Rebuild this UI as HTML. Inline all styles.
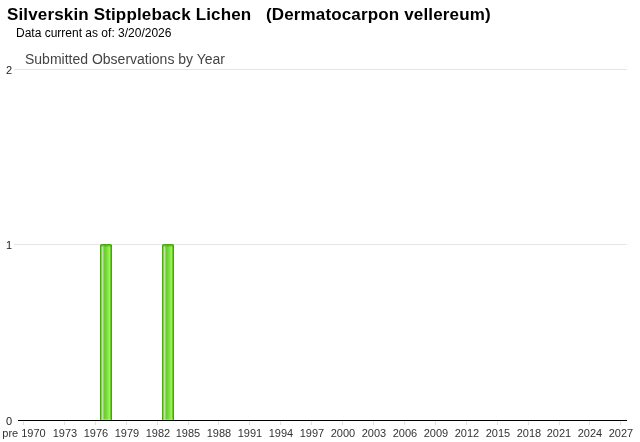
<!DOCTYPE html>
<html><head><meta charset="utf-8"><style>
html,body{margin:0;padding:0;background:#fff;width:640px;height:442px;overflow:hidden}
body{position:relative;font-family:"Liberation Sans",sans-serif}
.t,.yl,.xl{will-change:transform}
.t{position:absolute;white-space:pre;line-height:1}
#title{left:7px;top:6px;font-weight:bold;font-size:17px;color:#000;letter-spacing:0.15px}
#sub{left:16px;top:27px;font-size:12px;color:#000}
#ctitle{left:25px;top:52px;font-size:14px;color:#444}
.yl{position:absolute;font-size:11px;color:#222;text-align:right;width:12px;left:0;line-height:1}
.xl{position:absolute;font-size:11px;color:#333;text-align:center;width:60px;top:428px;line-height:1;white-space:pre}
.g{position:absolute;height:1px;background:#e6e6e6}
.tk{position:absolute;width:1px;height:4px;top:421px;background:linear-gradient(to bottom,#f2f2f2 0 1px,#dedede 1px 4px)}
.bar{position:absolute;top:244px;width:12px;height:176px;background:linear-gradient(to right,#48ab08 0px 1px,#86cd62 1px 2px,#bde3a6 2px 3px,#93d667 3px 4px,#6ecf2e 4px 5px,#70d233 5px 6px,#79da3c 6px 7px,#84e345 7px 8px,#8fec4e 8px 9px,#98f558 9px 10px,#6cc92c 10px 11px,#45a800 11px 12px)}
.bt{position:absolute;left:0;top:0;width:12px;height:1px;background:#4aa90a}
.bt2{position:absolute;left:0;top:1px;width:12px;height:2px;background:linear-gradient(to bottom,rgba(60,160,0,0.6),rgba(60,160,0,0.2))}
.bb{position:absolute;left:1px;bottom:0;width:10px;height:1px;background:rgba(160,255,110,0.6)}
.cn{position:absolute;top:0;width:1px;height:1px;background:#a6d68a}
</style></head><body>
<div class="t" id="title">Silverskin Stippleback Lichen   (Dermatocarpon vellereum)</div>
<div class="t" id="sub">Data current as of: 3/20/2026</div>
<div class="t" id="ctitle">Submitted Observations by Year</div>

<div class="g" style="left:14px;top:69px;width:613px"></div>
<div class="g" style="left:14px;top:244px;width:613px"></div>
<div class="yl" style="top:65px">2</div>
<div class="yl" style="top:240px">1</div>
<div class="yl" style="top:416px">0</div>
<div style="position:absolute;left:18px;top:420px;width:609px;height:1px;background:#000"></div>
<div class="tk" style="left:23px"></div>
<div class="xl" style="left:-6.45px">pre 1970</div>
<div class="tk" style="left:64px"></div>
<div class="xl" style="left:34.77px">1973</div>
<div class="tk" style="left:95px"></div>
<div class="xl" style="left:65.69px">1976</div>
<div class="tk" style="left:126px"></div>
<div class="xl" style="left:96.61px">1979</div>
<div class="tk" style="left:157px"></div>
<div class="xl" style="left:127.53px">1982</div>
<div class="tk" style="left:188px"></div>
<div class="xl" style="left:158.45px">1985</div>
<div class="tk" style="left:218px"></div>
<div class="xl" style="left:189.36px">1988</div>
<div class="tk" style="left:249px"></div>
<div class="xl" style="left:220.28px">1991</div>
<div class="tk" style="left:280px"></div>
<div class="xl" style="left:251.20px">1994</div>
<div class="tk" style="left:311px"></div>
<div class="xl" style="left:282.12px">1997</div>
<div class="tk" style="left:342px"></div>
<div class="xl" style="left:313.04px">2000</div>
<div class="tk" style="left:373px"></div>
<div class="xl" style="left:343.95px">2003</div>
<div class="tk" style="left:404px"></div>
<div class="xl" style="left:374.87px">2006</div>
<div class="tk" style="left:435px"></div>
<div class="xl" style="left:405.79px">2009</div>
<div class="tk" style="left:466px"></div>
<div class="xl" style="left:436.71px">2012</div>
<div class="tk" style="left:497px"></div>
<div class="xl" style="left:467.63px">2015</div>
<div class="tk" style="left:528px"></div>
<div class="xl" style="left:498.54px">2018</div>
<div class="tk" style="left:559px"></div>
<div class="xl" style="left:529.46px">2021</div>
<div class="tk" style="left:589px"></div>
<div class="xl" style="left:560.38px">2024</div>
<div class="tk" style="left:620px"></div>
<div class="xl" style="left:591.30px">2027</div>
<div class="bar" style="left:100px"><div class="bt"></div><div class="bt2"></div><div class="bb"></div><div class="cn" style="left:0"></div><div class="cn" style="left:11px"></div></div>
<div class="bar" style="left:162px"><div class="bt"></div><div class="bt2"></div><div class="bb"></div><div class="cn" style="left:0"></div><div class="cn" style="left:11px"></div></div>
</body></html>
